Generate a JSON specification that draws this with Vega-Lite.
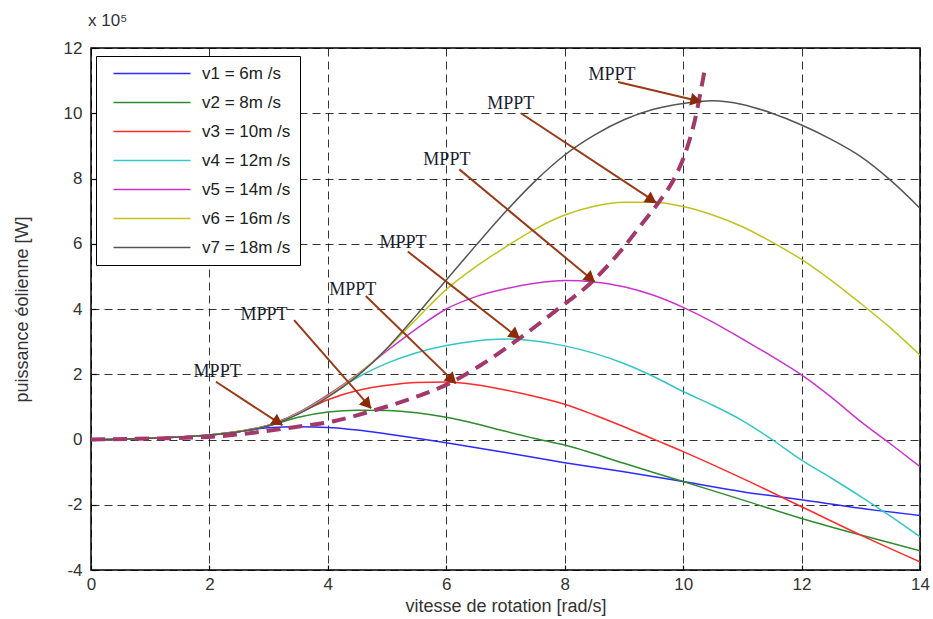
{
  "$schema": "https://vega.github.io/schema/vega-lite/v6.json",
  "width": 829,
  "height": 522,
  "autosize": {"type": "none"},
  "padding": {"left": 91, "top": 48, "right": 13, "bottom": 49},
  "background": "#ffffff",
  "title": {"text": "x 10⁵", "anchor": "start", "frame": "group", "fontSize": 17, "font": "Liberation Sans", "fontWeight": "normal", "color": "#333333", "offset": 9, "dx": -3},
  "config": {
    "view": {"stroke": "#000000", "strokeWidth": 1.5},
    "axis": {
      "grid": true, "gridColor": "#000000", "gridDash": [8, 5], "gridOpacity": 0.8, "gridWidth": 1,
      "domain": false, "ticks": true, "tickSize": -5, "tickColor": "#000000", "tickWidth": 1.2,
      "labelFlush": false,
      "labelFont": "Liberation Sans", "labelFontSize": 17, "labelColor": "#333333",
      "labelExpr": "replace(datum.label, '−', '-')",
      "titleFont": "Liberation Sans", "titleFontSize": 18, "titleFontWeight": "normal", "titleColor": "#333333"
    },
    "legend": {
      "orient": "none", "legendX": 5, "legendY": 8, "title": null,
      "symbolType": "M0,0H14", "symbolSize": 121, "symbolStrokeWidth": 1.5, "symbolFillColor": "transparent",
      "labelFont": "Liberation Sans", "labelFontSize": 17, "labelColor": "#222222",
      "rowPadding": 11, "padding": 9, "labelOffset": 80,
      "strokeColor": "#000000", "fillColor": "#ffffff"
    }
  },
  "datasets": {
    "curves": [
      {"w": 0, "p": 0, "s": "v1 = 6m /s"}, {"w": 0.5, "p": 0.01, "s": "v1 = 6m /s"}, {"w": 1, "p": 0.04, "s": "v1 = 6m /s"}, {"w": 1.5, "p": 0.08, "s": "v1 = 6m /s"}, {"w": 2, "p": 0.14, "s": "v1 = 6m /s"}, {"w": 2.5, "p": 0.24, "s": "v1 = 6m /s"}, {"w": 3, "p": 0.36, "s": "v1 = 6m /s"}, {"w": 3.5, "p": 0.39, "s": "v1 = 6m /s"}, {"w": 4, "p": 0.37, "s": "v1 = 6m /s"}, {"w": 4.5, "p": 0.29, "s": "v1 = 6m /s"}, {"w": 5, "p": 0.17, "s": "v1 = 6m /s"}, {"w": 5.5, "p": 0.04, "s": "v1 = 6m /s"}, {"w": 6, "p": -0.1, "s": "v1 = 6m /s"}, {"w": 7, "p": -0.4, "s": "v1 = 6m /s"}, {"w": 8, "p": -0.71, "s": "v1 = 6m /s"}, {"w": 9, "p": -0.99, "s": "v1 = 6m /s"}, {"w": 10, "p": -1.29, "s": "v1 = 6m /s"}, {"w": 11, "p": -1.6, "s": "v1 = 6m /s"}, {"w": 12, "p": -1.85, "s": "v1 = 6m /s"}, {"w": 13, "p": -2.11, "s": "v1 = 6m /s"}, {"w": 14, "p": -2.33, "s": "v1 = 6m /s"},

      {"w": 0, "p": 0, "s": "v2 = 8m /s"}, {"w": 0.5, "p": 0.01, "s": "v2 = 8m /s"}, {"w": 1, "p": 0.04, "s": "v2 = 8m /s"}, {"w": 1.5, "p": 0.08, "s": "v2 = 8m /s"}, {"w": 2, "p": 0.14, "s": "v2 = 8m /s"}, {"w": 2.5, "p": 0.24, "s": "v2 = 8m /s"}, {"w": 3, "p": 0.42, "s": "v2 = 8m /s"}, {"w": 3.5, "p": 0.68, "s": "v2 = 8m /s"}, {"w": 4, "p": 0.84, "s": "v2 = 8m /s"}, {"w": 4.5, "p": 0.9, "s": "v2 = 8m /s"}, {"w": 5, "p": 0.89, "s": "v2 = 8m /s"}, {"w": 5.5, "p": 0.82, "s": "v2 = 8m /s"}, {"w": 6, "p": 0.68, "s": "v2 = 8m /s"}, {"w": 6.5, "p": 0.48, "s": "v2 = 8m /s"}, {"w": 7, "p": 0.25, "s": "v2 = 8m /s"}, {"w": 7.5, "p": 0.03, "s": "v2 = 8m /s"}, {"w": 8, "p": -0.17, "s": "v2 = 8m /s"}, {"w": 9, "p": -0.73, "s": "v2 = 8m /s"}, {"w": 10, "p": -1.29, "s": "v2 = 8m /s"}, {"w": 11, "p": -1.85, "s": "v2 = 8m /s"}, {"w": 12, "p": -2.42, "s": "v2 = 8m /s"}, {"w": 13, "p": -2.93, "s": "v2 = 8m /s"}, {"w": 14, "p": -3.41, "s": "v2 = 8m /s"},

      {"w": 0, "p": 0, "s": "v3 = 10m /s"}, {"w": 0.5, "p": 0.01, "s": "v3 = 10m /s"}, {"w": 1, "p": 0.04, "s": "v3 = 10m /s"}, {"w": 1.5, "p": 0.08, "s": "v3 = 10m /s"}, {"w": 2, "p": 0.14, "s": "v3 = 10m /s"}, {"w": 2.5, "p": 0.25, "s": "v3 = 10m /s"}, {"w": 3, "p": 0.44, "s": "v3 = 10m /s"}, {"w": 3.5, "p": 0.8, "s": "v3 = 10m /s"}, {"w": 4, "p": 1.22, "s": "v3 = 10m /s"}, {"w": 4.5, "p": 1.5, "s": "v3 = 10m /s"}, {"w": 5, "p": 1.66, "s": "v3 = 10m /s"}, {"w": 5.5, "p": 1.75, "s": "v3 = 10m /s"}, {"w": 6, "p": 1.76, "s": "v3 = 10m /s"}, {"w": 6.5, "p": 1.68, "s": "v3 = 10m /s"}, {"w": 7, "p": 1.52, "s": "v3 = 10m /s"}, {"w": 7.5, "p": 1.32, "s": "v3 = 10m /s"}, {"w": 8, "p": 1.08, "s": "v3 = 10m /s"}, {"w": 8.5, "p": 0.75, "s": "v3 = 10m /s"}, {"w": 9, "p": 0.39, "s": "v3 = 10m /s"}, {"w": 9.5, "p": 0.01, "s": "v3 = 10m /s"}, {"w": 10, "p": -0.37, "s": "v3 = 10m /s"}, {"w": 11, "p": -1.19, "s": "v3 = 10m /s"}, {"w": 12, "p": -2.06, "s": "v3 = 10m /s"}, {"w": 13, "p": -2.93, "s": "v3 = 10m /s"}, {"w": 14, "p": -3.75, "s": "v3 = 10m /s"},

      {"w": 0, "p": 0, "s": "v4 = 12m /s"}, {"w": 0.5, "p": 0.01, "s": "v4 = 12m /s"}, {"w": 1, "p": 0.04, "s": "v4 = 12m /s"}, {"w": 1.5, "p": 0.08, "s": "v4 = 12m /s"}, {"w": 2, "p": 0.14, "s": "v4 = 12m /s"}, {"w": 2.5, "p": 0.25, "s": "v4 = 12m /s"}, {"w": 3, "p": 0.44, "s": "v4 = 12m /s"}, {"w": 3.5, "p": 0.82, "s": "v4 = 12m /s"}, {"w": 4, "p": 1.36, "s": "v4 = 12m /s"}, {"w": 4.5, "p": 1.9, "s": "v4 = 12m /s"}, {"w": 5, "p": 2.34, "s": "v4 = 12m /s"}, {"w": 5.5, "p": 2.66, "s": "v4 = 12m /s"}, {"w": 6, "p": 2.88, "s": "v4 = 12m /s"}, {"w": 6.5, "p": 3.02, "s": "v4 = 12m /s"}, {"w": 7, "p": 3.08, "s": "v4 = 12m /s"}, {"w": 7.5, "p": 3.02, "s": "v4 = 12m /s"}, {"w": 8, "p": 2.87, "s": "v4 = 12m /s"}, {"w": 8.5, "p": 2.64, "s": "v4 = 12m /s"}, {"w": 9, "p": 2.33, "s": "v4 = 12m /s"}, {"w": 9.5, "p": 1.93, "s": "v4 = 12m /s"}, {"w": 10, "p": 1.47, "s": "v4 = 12m /s"}, {"w": 10.5, "p": 1.05, "s": "v4 = 12m /s"}, {"w": 11, "p": 0.58, "s": "v4 = 12m /s"}, {"w": 11.5, "p": 0.0, "s": "v4 = 12m /s"}, {"w": 12, "p": -0.63, "s": "v4 = 12m /s"}, {"w": 12.5, "p": -1.18, "s": "v4 = 12m /s"}, {"w": 13, "p": -1.75, "s": "v4 = 12m /s"}, {"w": 13.5, "p": -2.35, "s": "v4 = 12m /s"}, {"w": 14, "p": -2.98, "s": "v4 = 12m /s"},

      {"w": 0, "p": 0, "s": "v5 = 14m /s"}, {"w": 0.5, "p": 0.01, "s": "v5 = 14m /s"}, {"w": 1, "p": 0.04, "s": "v5 = 14m /s"}, {"w": 1.5, "p": 0.08, "s": "v5 = 14m /s"}, {"w": 2, "p": 0.14, "s": "v5 = 14m /s"}, {"w": 2.5, "p": 0.25, "s": "v5 = 14m /s"}, {"w": 3, "p": 0.44, "s": "v5 = 14m /s"}, {"w": 3.5, "p": 0.82, "s": "v5 = 14m /s"}, {"w": 4, "p": 1.37, "s": "v5 = 14m /s"}, {"w": 4.5, "p": 2.0, "s": "v5 = 14m /s"}, {"w": 5, "p": 2.72, "s": "v5 = 14m /s"}, {"w": 5.5, "p": 3.4, "s": "v5 = 14m /s"}, {"w": 6, "p": 4.0, "s": "v5 = 14m /s"}, {"w": 6.5, "p": 4.38, "s": "v5 = 14m /s"}, {"w": 7, "p": 4.62, "s": "v5 = 14m /s"}, {"w": 7.5, "p": 4.79, "s": "v5 = 14m /s"}, {"w": 8, "p": 4.87, "s": "v5 = 14m /s"}, {"w": 8.5, "p": 4.83, "s": "v5 = 14m /s"}, {"w": 9, "p": 4.68, "s": "v5 = 14m /s"}, {"w": 9.5, "p": 4.42, "s": "v5 = 14m /s"}, {"w": 10, "p": 4.05, "s": "v5 = 14m /s"}, {"w": 10.5, "p": 3.6, "s": "v5 = 14m /s"}, {"w": 11, "p": 3.08, "s": "v5 = 14m /s"}, {"w": 11.5, "p": 2.55, "s": "v5 = 14m /s"}, {"w": 12, "p": 1.98, "s": "v5 = 14m /s"}, {"w": 12.5, "p": 1.3, "s": "v5 = 14m /s"}, {"w": 13, "p": 0.55, "s": "v5 = 14m /s"}, {"w": 13.5, "p": -0.13, "s": "v5 = 14m /s"}, {"w": 14, "p": -0.83, "s": "v5 = 14m /s"},

      {"w": 0, "p": 0, "s": "v6 = 16m /s"}, {"w": 0.5, "p": 0.01, "s": "v6 = 16m /s"}, {"w": 1, "p": 0.04, "s": "v6 = 16m /s"}, {"w": 1.5, "p": 0.08, "s": "v6 = 16m /s"}, {"w": 2, "p": 0.14, "s": "v6 = 16m /s"}, {"w": 2.5, "p": 0.25, "s": "v6 = 16m /s"}, {"w": 3, "p": 0.43, "s": "v6 = 16m /s"}, {"w": 3.5, "p": 0.8, "s": "v6 = 16m /s"}, {"w": 4, "p": 1.33, "s": "v6 = 16m /s"}, {"w": 4.5, "p": 1.98, "s": "v6 = 16m /s"}, {"w": 5, "p": 2.78, "s": "v6 = 16m /s"}, {"w": 5.5, "p": 3.7, "s": "v6 = 16m /s"}, {"w": 6, "p": 4.6, "s": "v6 = 16m /s"}, {"w": 6.5, "p": 5.3, "s": "v6 = 16m /s"}, {"w": 7, "p": 5.9, "s": "v6 = 16m /s"}, {"w": 7.5, "p": 6.45, "s": "v6 = 16m /s"}, {"w": 8, "p": 6.88, "s": "v6 = 16m /s"}, {"w": 8.5, "p": 7.15, "s": "v6 = 16m /s"}, {"w": 9, "p": 7.27, "s": "v6 = 16m /s"}, {"w": 9.5, "p": 7.27, "s": "v6 = 16m /s"}, {"w": 10, "p": 7.14, "s": "v6 = 16m /s"}, {"w": 10.5, "p": 6.88, "s": "v6 = 16m /s"}, {"w": 11, "p": 6.52, "s": "v6 = 16m /s"}, {"w": 11.5, "p": 6.05, "s": "v6 = 16m /s"}, {"w": 12, "p": 5.52, "s": "v6 = 16m /s"}, {"w": 12.5, "p": 4.88, "s": "v6 = 16m /s"}, {"w": 13, "p": 4.17, "s": "v6 = 16m /s"}, {"w": 13.5, "p": 3.42, "s": "v6 = 16m /s"}, {"w": 14, "p": 2.59, "s": "v6 = 16m /s"},

      {"w": 0, "p": 0, "s": "v7 = 18m /s"}, {"w": 0.5, "p": 0.01, "s": "v7 = 18m /s"}, {"w": 1, "p": 0.04, "s": "v7 = 18m /s"}, {"w": 1.5, "p": 0.08, "s": "v7 = 18m /s"}, {"w": 2, "p": 0.14, "s": "v7 = 18m /s"}, {"w": 2.5, "p": 0.24, "s": "v7 = 18m /s"}, {"w": 3, "p": 0.42, "s": "v7 = 18m /s"}, {"w": 3.5, "p": 0.78, "s": "v7 = 18m /s"}, {"w": 4, "p": 1.3, "s": "v7 = 18m /s"}, {"w": 4.5, "p": 1.95, "s": "v7 = 18m /s"}, {"w": 5, "p": 2.8, "s": "v7 = 18m /s"}, {"w": 5.5, "p": 3.82, "s": "v7 = 18m /s"}, {"w": 6, "p": 4.89, "s": "v7 = 18m /s"}, {"w": 6.5, "p": 5.95, "s": "v7 = 18m /s"}, {"w": 7, "p": 6.98, "s": "v7 = 18m /s"}, {"w": 7.5, "p": 7.92, "s": "v7 = 18m /s"}, {"w": 8, "p": 8.72, "s": "v7 = 18m /s"}, {"w": 8.5, "p": 9.33, "s": "v7 = 18m /s"}, {"w": 9, "p": 9.8, "s": "v7 = 18m /s"}, {"w": 9.5, "p": 10.12, "s": "v7 = 18m /s"}, {"w": 10, "p": 10.3, "s": "v7 = 18m /s"}, {"w": 10.5, "p": 10.38, "s": "v7 = 18m /s"}, {"w": 11, "p": 10.27, "s": "v7 = 18m /s"}, {"w": 11.5, "p": 10.0, "s": "v7 = 18m /s"}, {"w": 12, "p": 9.64, "s": "v7 = 18m /s"}, {"w": 12.5, "p": 9.2, "s": "v7 = 18m /s"}, {"w": 13, "p": 8.67, "s": "v7 = 18m /s"}, {"w": 13.5, "p": 7.95, "s": "v7 = 18m /s"}, {"w": 14, "p": 7.09, "s": "v7 = 18m /s"}
    ],
    "mpptline": [
      {"w": 0, "p": 0}, {"w": 1, "p": 0.03}, {"w": 2, "p": 0.08}, {"w": 2.8, "p": 0.22}, {"w": 3.4, "p": 0.37}, {"w": 4.1, "p": 0.56}, {"w": 4.7, "p": 0.85}, {"w": 5.4, "p": 1.25}, {"w": 6.05, "p": 1.72}, {"w": 6.6, "p": 2.3}, {"w": 7.2, "p": 3.05}, {"w": 7.85, "p": 3.95}, {"w": 8.5, "p": 4.9}, {"w": 9.0, "p": 5.9}, {"w": 9.3, "p": 6.6}, {"w": 9.6, "p": 7.3}, {"w": 9.85, "p": 8.0}, {"w": 10.05, "p": 8.85}, {"w": 10.2, "p": 9.8}, {"w": 10.3, "p": 10.7}, {"w": 10.37, "p": 11.4}
    ],
    "notes": [
      {"label": "MPPT", "tx": 2.13, "ty": 2.08, "x0": 2.11, "y0": 1.77, "x1": 3.23, "y1": 0.44, "hx": 3.16, "hy": 0.53, "angle": 33},
      {"label": "MPPT", "tx": 2.92, "ty": 3.82, "x0": 3.43, "y0": 3.66, "x1": 4.73, "y1": 0.96, "hx": 4.67, "hy": 1.07, "angle": 49},
      {"label": "MPPT", "tx": 4.42, "ty": 4.58, "x0": 4.64, "y0": 4.4, "x1": 6.16, "y1": 1.72, "hx": 6.1, "hy": 1.83, "angle": 44},
      {"label": "MPPT", "tx": 5.27, "ty": 6.01, "x0": 5.35, "y0": 5.76, "x1": 7.23, "y1": 3.1, "hx": 7.17, "hy": 3.2, "angle": 38},
      {"label": "MPPT", "tx": 6.01, "ty": 8.57, "x0": 6.22, "y0": 8.28, "x1": 8.5, "y1": 4.84, "hx": 8.44, "hy": 4.93, "angle": 40},
      {"label": "MPPT", "tx": 7.09, "ty": 10.28, "x0": 7.26, "y0": 10.0, "x1": 9.55, "y1": 7.26, "hx": 9.47, "hy": 7.34, "angle": 33.5},
      {"label": "MPPT", "tx": 8.8, "ty": 11.17, "x0": 8.9, "y0": 10.96, "x1": 10.31, "y1": 10.35, "hx": 10.22, "hy": 10.39, "angle": 13}
    ]
  },
  "encoding": {
    "x": {"type": "quantitative", "scale": {"domain": [0, 14], "nice": false, "zero": false}, "axis": {"title": "vitesse de rotation [rad/s]", "values": [0, 2, 4, 6, 8, 10, 12, 14], "labelPadding": 11, "titlePadding": 5}},
    "y": {"type": "quantitative", "scale": {"domain": [-4, 12], "nice": false, "zero": false}, "axis": {"title": "puissance éolienne [W]", "values": [-4, -2, 0, 2, 4, 6, 8, 10, 12], "labelPadding": 14, "titleX": -60}}
  },
  "layer": [
    {
      "data": {"name": "curves"},
      "mark": {"type": "line", "strokeWidth": 1.5, "interpolate": "monotone", "clip": true},
      "encoding": {
        "x": {"field": "w", "type": "quantitative"},
        "y": {"field": "p", "type": "quantitative"},
        "color": {"field": "s", "type": "nominal", "scale": {"domain": ["v1 = 6m /s", "v2 = 8m /s", "v3 = 10m /s", "v4 = 12m /s", "v5 = 14m /s", "v6 = 16m /s", "v7 = 18m /s"], "range": ["#2b2bff", "#2e8b2e", "#ff2a2a", "#33c6c6", "#cc33cc", "#c2c21e", "#555555"]}}
      }
    },
    {
      "data": {"name": "mpptline"},
      "mark": {"type": "line", "strokeWidth": 4, "strokeDash": [14, 8], "color": "#a3386b", "interpolate": "monotone", "clip": true},
      "encoding": {
        "x": {"field": "w", "type": "quantitative"},
        "y": {"field": "p", "type": "quantitative"}
      }
    },
    {
      "data": {"name": "notes"},
      "mark": {"type": "rule", "color": "#9a3a16", "strokeWidth": 2},
      "encoding": {
        "x": {"field": "x0", "type": "quantitative"},
        "y": {"field": "y0", "type": "quantitative"},
        "x2": {"field": "x1"},
        "y2": {"field": "y1"}
      }
    },
    {
      "data": {"name": "notes"},
      "mark": {"type": "point", "shape": "triangle-right", "filled": true, "color": "#8b2a08", "size": 170, "opacity": 1},
      "encoding": {
        "x": {"field": "hx", "type": "quantitative"},
        "y": {"field": "hy", "type": "quantitative"},
        "angle": {"field": "angle", "type": "quantitative", "scale": null}
      }
    },
    {
      "data": {"name": "notes"},
      "mark": {"type": "text", "font": "Liberation Serif", "fontSize": 18, "color": "#1c1c30", "align": "center", "baseline": "middle"},
      "encoding": {
        "x": {"field": "tx", "type": "quantitative"},
        "y": {"field": "ty", "type": "quantitative"},
        "text": {"field": "label"}
      }
    }
  ]
}
